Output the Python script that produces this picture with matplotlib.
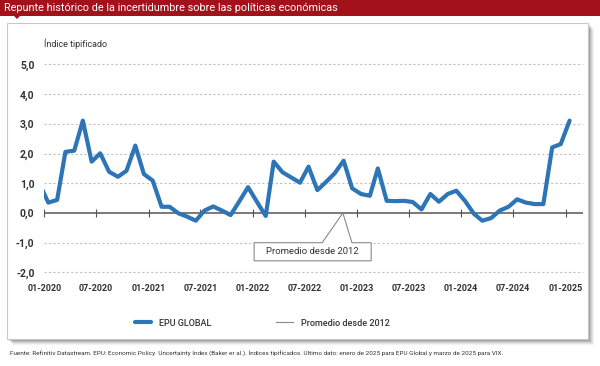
import matplotlib
matplotlib.use("Agg")
import matplotlib.pyplot as plt
import matplotlib.dates as mdates
from matplotlib.patches import Rectangle, Polygon
from matplotlib.lines import Line2D
import pandas as pd
import numpy as np

plt.rcParams['font.family'] = ['Roboto', 'DejaVu Sans']

# ---------------- data ----------------
months = pd.date_range('2019-12-01', '2025-01-01', freq='MS') + pd.Timedelta(days=14)
epu_global = [0.99, 0.35, 0.44, 2.06, 2.10, 3.11, 1.73, 2.01, 1.39, 1.22, 1.42, 2.27,
              1.31, 1.09, 0.21, 0.21, -0.01, -0.12, -0.26, 0.08, 0.22, 0.08, -0.07, 0.40,
              0.87, 0.38, -0.10, 1.73, 1.37, 1.20, 1.02, 1.56, 0.77, 1.05, 1.34, 1.76,
              0.83, 0.64, 0.58, 1.50, 0.41, 0.40, 0.41, 0.37, 0.12, 0.64, 0.38, 0.64,
              0.75, 0.40, -0.03, -0.26, -0.17, 0.08, 0.21, 0.46, 0.35, 0.30, 0.30, 2.21,
              2.32, 3.11]
promedio = 0.0
y_ticks = [-2, -1, 0, 1, 2, 3, 4, 5]
x_ticks = pd.date_range('2020-01-01', '2025-01-01', freq='6MS')

title = "Repunte histórico de la incertidumbre sobre las políticas económicas"
ylabel = "Índice tipificado"
series_label = "EPU GLOBAL"
avg_label = "Promedio desde 2012"
source = ("Fuente: Refinitiv Datastream. EPU: Economic Policy  Uncertainty Index (Baker er al.). "
          "Índices tipificados. Último dato: enero de 2025 para EPU Global y marzo de 2025 para VIX.")

BLUE = '#2e75b6'
RED = '#a3111b'
W, H = 600, 366

fig = plt.figure(figsize=(6, 3.66), dpi=100)

def fx(px):
    return px / W

def fy(py):
    return 1 - py / H

# panel shadow
for i, a in enumerate([0.05, 0.06, 0.08, 0.10, 0.12]):
    off = 6 - i
    fig.patches.append(Rectangle((fx(7 + off), fy(339 + off)), fx(581), 316 / H,
                                 transform=fig.transFigure, facecolor='#000000',
                                 alpha=a, edgecolor='none', zorder=0))
# white panel
fig.patches.append(Rectangle((fx(7), fy(339)), fx(581), 316 / H, transform=fig.transFigure,
                             facecolor='white', edgecolor='#c8c8c8', lw=0.8, zorder=1))
# title bar
fig.patches.append(Rectangle((0, fy(15.5)), 1, 15.5 / H, transform=fig.transFigure,
                             facecolor=RED, edgecolor='none', zorder=2))
fig.patches.append(Polygon([(fx(13), fy(15)), (fx(21), fy(15)), (fx(17), fy(19))],
                           closed=True, transform=fig.transFigure, facecolor=RED,
                           edgecolor='none', zorder=2))
fig.text(fx(4), fy(8), title, color='white', fontsize=7.8, va='center', ha='left', zorder=3)

# axes
ylo, yhi = -2.05, 5.05
px_per_unit = 29.7
top_px = 213 - yhi * px_per_unit
bot_px = 213 - ylo * px_per_unit
ax = fig.add_axes([fx(44.3), fy(bot_px), fx(583 - 44.3), (bot_px - top_px) / H])
ax.set_zorder(5)
ax.patch.set_alpha(0)

ax.set_ylim(ylo, yhi)
ax.set_xlim(pd.Timestamp('2020-01-01'), pd.Timestamp('2025-03-03'))

for v in y_ticks:
    if v != 0:
        ax.axhline(v, color='#c0c0c0', lw=0.8, ls=(0, (2, 2)), zorder=1)

ax.axhline(promedio, color='#555555', lw=1.1, zorder=2, label=avg_label)
ax.plot(months, epu_global, color=BLUE, lw=3.0, solid_joinstyle='round',
        solid_capstyle='round', zorder=3, label=series_label)

for s in ax.spines.values():
    s.set_visible(False)
ax.spines['bottom'].set_position(('data', 0))

ax.set_yticks(y_ticks)
ax.yaxis.set_major_formatter(plt.FuncFormatter(lambda v, p: f"{v:.1f}".replace('.', ',')))
ax.tick_params(axis='y', length=0, pad=7, labelsize=7.5, labelcolor='#333333')
for t in ax.get_yticklabels():
    t.set_fontweight('bold')

ax.set_xticks(x_ticks)
ax.xaxis.set_major_formatter(mdates.DateFormatter('%m-%Y'))
ax.tick_params(axis='x', direction='inout', length=6, width=0.8, color='#555555',
               pad=48, labelsize=6.5, labelcolor='#333333')
for t in ax.get_xticklabels():
    t.set_fontweight('bold')

fig.text(fx(44.3), fy(44), ylabel, fontsize=6.5, color='#333333', va='center', ha='left')

# callout annotation
def px2date(px):
    months_off = (px - 44.3) / 8.68
    return mdates.date2num(pd.Timestamp('2020-01-01')) + months_off * 30.44

bx0, bx1 = px2date(254), px2date(371)
p0, p1, apex = px2date(322), px2date(351.7), px2date(342.7)
byt, byb = -1.0, -1.61
ax.add_patch(Polygon([(bx0, byt), (p0, byt), (apex, 0.0), (p1, byt), (bx1, byt),
                      (bx1, byb), (bx0, byb)], closed=True, facecolor='white',
                     edgecolor='#8a8a8a', lw=0.8, zorder=4))
ax.text((bx0 + bx1) / 2, (byt + byb) / 2, avg_label, fontsize=6.8, color='#333333',
        ha='center', va='center', zorder=5)

# legend
handles = [Line2D([], [], color=BLUE, lw=3.0, solid_capstyle='round'),
           Line2D([], [], color='#8a8a8a', lw=0.8)]
leg = fig.legend(handles, [series_label, avg_label], loc='center',
                 bbox_to_anchor=(fx(262), fy(323)), ncol=2, frameon=False,
                 fontsize=6.5, handlelength=1.8, handletextpad=0.9, columnspacing=7.2)
for t in leg.get_texts():
    t.set_color('#333333')
    t.set_fontweight('medium')

fig.text(fx(10), fy(353), source, fontsize=4.55, color='#333333', va='center', ha='left')

fig.savefig('out.png', dpi=100)
